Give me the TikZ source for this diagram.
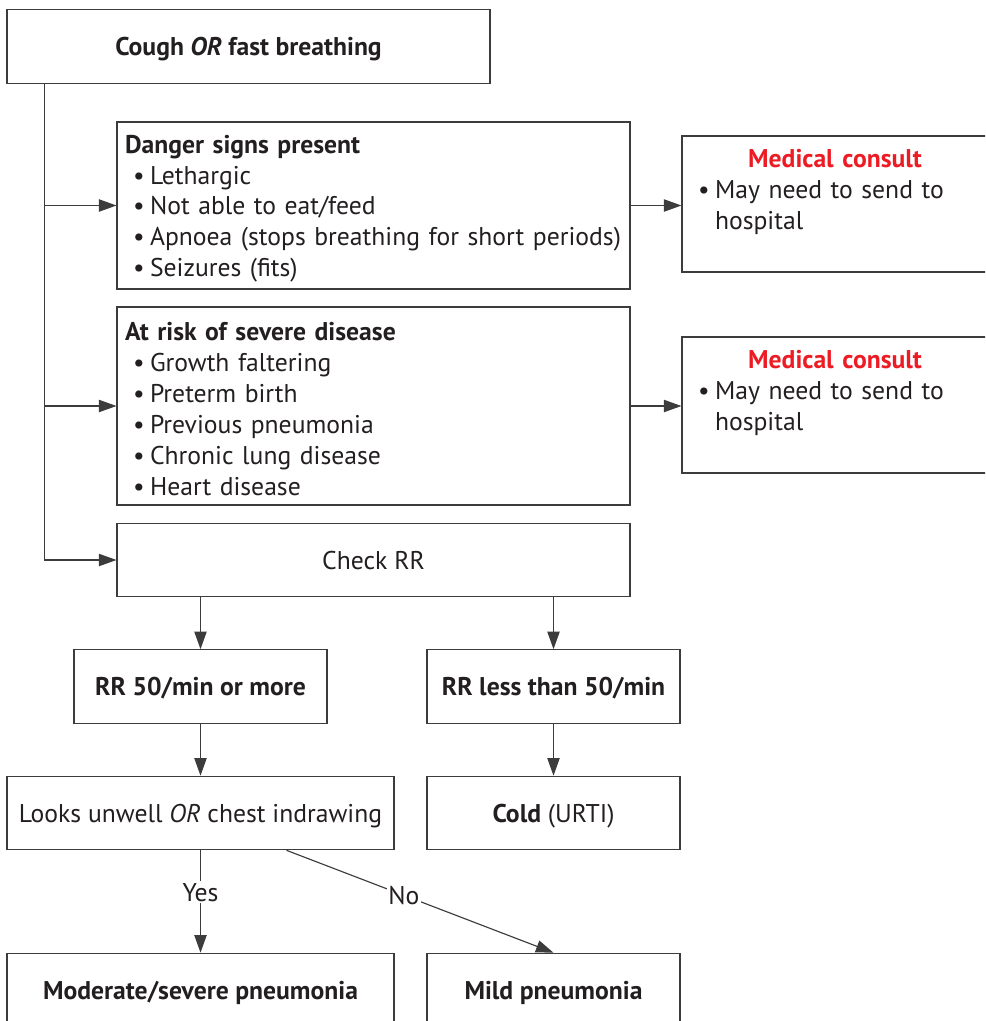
\documentclass[tikz,border=0pt]{standalone}
\usepackage{fontspec}
\setmainfont{PT Sans}
\usetikzlibrary{arrows.meta,positioning,calc}

\definecolor{ink}{HTML}{231F20}
\definecolor{edge}{HTML}{3C3C3C}
\definecolor{consult}{HTML}{ED1C24}
% bullet line with hanging indent
\newcommand{\itm}[1]{\par\hangindent=0.5cm\hangafter=1\noindent\makebox[0.5cm][l]{\hspace{0.16cm}\textbullet}#1}

\tikzset{
  box/.style={draw=edge, line width=0.65pt, text=ink, inner xsep=0.16cm, inner ysep=0pt,
    minimum height=1.47cm, font=\fontsize{14.6}{17.6}\selectfont},
  blk/.style={box, text depth=0pt},
  lst/.style={box, text width=9.94cm},
  cons/.style={box, text width=5.8cm, minimum height=2.72cm},
  lbl/.style={fill=white, text=ink, inner sep=1pt, font=\fontsize{14.6}{17.6}\selectfont}
}

\begin{document}
\begin{tikzpicture}[x=0.02cm, y=-0.02cm, >={Triangle[length=10pt,width=7pt]}, line width=0.65pt, draw=edge]
  \useasboundingbox (0,0) rectangle (985,1021);
  \clip (0,0) rectangle (985,1021);

  \node[blk, minimum width=9.66cm] (top) at (248.5,46.5) {\textbf{Cough \textit{OR} fast breathing}};

  \node[lst, minimum height=3.34cm] (danger) at (373.5,205.5) {\raggedright
    \rule{0pt}{14pt}\textbf{Danger signs present}
    \itm{Lethargic}
    \itm{Not able to eat/feed}
    \itm{Apnoea (stops breathing for short periods)}
    \itm{Seizures (fits)}};
  \node[cons] (cons1) at (835,204) {{\centering\rule{0pt}{17pt}\textcolor{consult}{\textbf{Medical consult}}\par}\raggedright
    \itm{May need to send to hospital}\par\strut};

  \node[lst, minimum height=3.96cm] (risk) at (373.5,406) {\raggedright
    \rule{0pt}{14pt}\textbf{At risk of severe disease}
    \itm{Growth faltering}
    \itm{Preterm birth}
    \itm{Previous pneumonia}
    \itm{Chronic lung disease}
    \itm{Heart disease}};
  \node[cons] (cons2) at (835,405) {{\centering\rule{0pt}{17pt}\textcolor{consult}{\textbf{Medical consult}}\par}\raggedright
    \itm{May need to send to hospital}\par\strut};

  \node[blk, minimum width=10.26cm] (check) at (373.5,560) {Check RR};

  \node[blk, minimum width=5.06cm] (rrhi) at (200.5,686.5) {\textbf{RR 50/min or more}};
  \node[blk, minimum width=5.06cm] (rrlo) at (553.5,686.5) {\textbf{RR less than 50/min}};

  \node[blk, minimum width=7.74cm] (unwell) at (200.5,813) {Looks unwell \textit{OR} chest indrawing};
  \node[blk, minimum width=5.06cm] (cold) at (553.5,813) {\textbf{Cold} (URTI)};

  \node[blk, minimum width=7.74cm] (modsev) at (200.5,990) {\textbf{Moderate/severe pneumonia}};
  \node[blk, minimum width=5.06cm] (mild) at (553.5,990) {\textbf{Mild pneumonia}};

  % left trunk
  \coordinate (trunk) at ([xshift=0.76cm]top.south west);
  \draw[->] (trunk) |- (check.west);
  \draw[->] (trunk |- danger.west) -- (danger.west);
  \draw[->] (trunk |- risk.west) -- (risk.west);

  \draw[->] (danger.east) -- (danger.east -| cons1.west);
  \draw[->] (risk.east) -- (risk.east -| cons2.west);

  \draw[->] (rrhi |- check.south) -- (rrhi.north);
  \draw[->] (rrlo |- check.south) -- (rrlo.north);
  \draw[->] (rrhi) -- (unwell);
  \draw[->] (rrlo) -- (cold);

  \draw[->] (modsev |- unwell.south) -- (modsev.north) node[lbl, pos=0.41] {Yes};
  \draw[->] ([xshift=1.72cm]unwell.south) -- (mild.north) node[lbl, pos=0.44] {No};
\end{tikzpicture}
\end{document}
